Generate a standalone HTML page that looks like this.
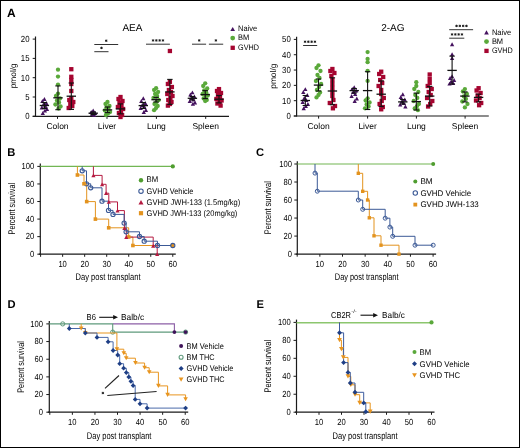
<!DOCTYPE html>
<html><head><meta charset="utf-8"><title>Figure</title>
<style>
html,body{margin:0;padding:0;background:#fff;width:520px;height:448px;overflow:hidden}
svg{display:block;will-change:transform}
text{font-family:"Liberation Sans",sans-serif;text-rendering:geometricPrecision}
</style></head><body>
<svg width="520" height="448" viewBox="0 0 520 448" font-family="Liberation Sans, sans-serif">
<rect x="0" y="0" width="520" height="448" fill="#fff"/>
<text x="6.9" y="16.6" font-size="12.0" font-weight="bold" fill="#000">A</text>
<line x1="35.5" y1="36.5" x2="35.5" y2="116.8" stroke="#1a1a1a" stroke-width="1.2"/>
<line x1="32.7" y1="116.3" x2="35.5" y2="116.3" stroke="#1a1a1a" stroke-width="1"/>
<text x="29.5" y="119.3" font-size="8.8" text-anchor="end" textLength="4.35" lengthAdjust="spacingAndGlyphs">0</text>
<line x1="32.7" y1="97" x2="35.5" y2="97" stroke="#1a1a1a" stroke-width="1"/>
<text x="29.5" y="100" font-size="8.8" text-anchor="end" textLength="4.35" lengthAdjust="spacingAndGlyphs">5</text>
<line x1="32.7" y1="77.7" x2="35.5" y2="77.7" stroke="#1a1a1a" stroke-width="1"/>
<text x="29.5" y="80.7" font-size="8.8" text-anchor="end" textLength="8.7" lengthAdjust="spacingAndGlyphs">10</text>
<line x1="32.7" y1="58.4" x2="35.5" y2="58.4" stroke="#1a1a1a" stroke-width="1"/>
<text x="29.5" y="61.4" font-size="8.8" text-anchor="end" textLength="8.7" lengthAdjust="spacingAndGlyphs">15</text>
<line x1="32.7" y1="39.1" x2="35.5" y2="39.1" stroke="#1a1a1a" stroke-width="1"/>
<text x="29.5" y="42.1" font-size="8.8" text-anchor="end" textLength="8.7" lengthAdjust="spacingAndGlyphs">20</text>
<line x1="32.7" y1="116.3" x2="229" y2="116.3" stroke="#1a1a1a" stroke-width="1.2"/>
<line x1="57.5" y1="116.3" x2="57.5" y2="118.9" stroke="#1a1a1a" stroke-width="1"/>
<text x="57.5" y="128.9" font-size="8.5" text-anchor="middle">Colon</text>
<line x1="107" y1="116.3" x2="107" y2="118.9" stroke="#1a1a1a" stroke-width="1"/>
<text x="107" y="128.9" font-size="8.5" text-anchor="middle">Liver</text>
<line x1="156.4" y1="116.3" x2="156.4" y2="118.9" stroke="#1a1a1a" stroke-width="1"/>
<text x="156.4" y="128.9" font-size="8.5" text-anchor="middle">Lung</text>
<line x1="205.7" y1="116.3" x2="205.7" y2="118.9" stroke="#1a1a1a" stroke-width="1"/>
<text x="205.7" y="128.9" font-size="8.5" text-anchor="middle">Spleen</text>
<text x="132.4" y="31.2" font-size="10" text-anchor="middle">AEA</text>
<text transform="translate(16.2,75.8) rotate(-90)" font-size="8.4" text-anchor="middle">pmol/g</text>
<path d="M232.7 26.88L235.05 31.12L230.35 31.12Z" fill="#45125f"/>
<circle cx="232.7" cy="38.1" r="2.4" fill="#5aa93a"/>
<rect x="230.55" y="45.65" width="4.3" height="4.3" fill="#a50530"/>
<text x="238.1" y="31.1" font-size="8.0" textLength="19.2" lengthAdjust="spacingAndGlyphs">Naive</text>
<text x="238.1" y="40.4" font-size="8.0" textLength="11.2" lengthAdjust="spacingAndGlyphs">BM</text>
<text x="238.1" y="49.8" font-size="8.0" textLength="20.9" lengthAdjust="spacingAndGlyphs">GVHD</text>
<path d="M44.4 97.06L46.55 100.94L42.25 100.94Z" fill="#45125f"/>
<path d="M42.4 99.06L44.55 102.94L40.25 102.94Z" fill="#45125f"/>
<path d="M46.4 101.06L48.55 104.94L44.25 104.94Z" fill="#45125f"/>
<path d="M43.4 102.56L45.55 106.44L41.25 106.44Z" fill="#45125f"/>
<path d="M45.4 104.06L47.55 107.94L43.25 107.94Z" fill="#45125f"/>
<path d="M41.8 105.56L43.95 109.44L39.65 109.44Z" fill="#45125f"/>
<path d="M47 107.06L49.15 110.94L44.85 110.94Z" fill="#45125f"/>
<path d="M44.9 108.56L47.05 112.44L42.75 112.44Z" fill="#45125f"/>
<path d="M42.8 111.06L44.95 114.94L40.65 114.94Z" fill="#45125f"/>
<line x1="44.4" y1="102.5" x2="44.4" y2="108.5" stroke="#111" stroke-width="1.1"/>
<line x1="41.7" y1="102.5" x2="47.1" y2="102.5" stroke="#111" stroke-width="1.1"/>
<line x1="41.7" y1="108.5" x2="47.1" y2="108.5" stroke="#111" stroke-width="1.1"/>
<line x1="39.7" y1="105.5" x2="49.1" y2="105.5" stroke="#111" stroke-width="1.3"/>
<circle cx="58" cy="69.7" r="2.15" fill="#5aa93a"/>
<circle cx="58" cy="76.6" r="2.15" fill="#5aa93a"/>
<circle cx="58" cy="84.6" r="2.15" fill="#5aa93a"/>
<circle cx="58" cy="93.6" r="2.15" fill="#5aa93a"/>
<circle cx="56" cy="96" r="2.15" fill="#5aa93a"/>
<circle cx="60" cy="98.5" r="2.15" fill="#5aa93a"/>
<circle cx="57" cy="100.5" r="2.15" fill="#5aa93a"/>
<circle cx="59" cy="102.5" r="2.15" fill="#5aa93a"/>
<circle cx="55.4" cy="104.5" r="2.15" fill="#5aa93a"/>
<circle cx="60.6" cy="106.5" r="2.15" fill="#5aa93a"/>
<circle cx="58.5" cy="108.5" r="2.15" fill="#5aa93a"/>
<line x1="58" y1="85.9" x2="58" y2="109.7" stroke="#111" stroke-width="1.1"/>
<line x1="55.3" y1="85.9" x2="60.7" y2="85.9" stroke="#111" stroke-width="1.1"/>
<line x1="55.3" y1="109.7" x2="60.7" y2="109.7" stroke="#111" stroke-width="1.1"/>
<line x1="53.3" y1="97.8" x2="62.7" y2="97.8" stroke="#111" stroke-width="1.3"/>
<rect x="69.15" y="67.05" width="4.3" height="4.3" fill="#a50530"/>
<rect x="69.15" y="74.65" width="4.3" height="4.3" fill="#a50530"/>
<rect x="69.15" y="77.85" width="4.3" height="4.3" fill="#a50530"/>
<rect x="69.15" y="81.85" width="4.3" height="4.3" fill="#a50530"/>
<rect x="69.15" y="88.85" width="4.3" height="4.3" fill="#a50530"/>
<rect x="69.15" y="95.85" width="4.3" height="4.3" fill="#a50530"/>
<rect x="67.15" y="97.85" width="4.3" height="4.3" fill="#a50530"/>
<rect x="71.15" y="99.85" width="4.3" height="4.3" fill="#a50530"/>
<rect x="68.15" y="101.85" width="4.3" height="4.3" fill="#a50530"/>
<rect x="70.15" y="103.85" width="4.3" height="4.3" fill="#a50530"/>
<rect x="66.55" y="105.85" width="4.3" height="4.3" fill="#a50530"/>
<line x1="71.3" y1="83" x2="71.3" y2="109.4" stroke="#111" stroke-width="1.1"/>
<line x1="68.6" y1="83" x2="74" y2="83" stroke="#111" stroke-width="1.1"/>
<line x1="68.6" y1="109.4" x2="74" y2="109.4" stroke="#111" stroke-width="1.1"/>
<line x1="66.6" y1="96.2" x2="76" y2="96.2" stroke="#111" stroke-width="1.3"/>
<path d="M93.2 108.56L95.35 112.44L91.05 112.44Z" fill="#45125f"/>
<path d="M91.2 110.06L93.35 113.94L89.05 113.94Z" fill="#45125f"/>
<path d="M95.2 111.06L97.35 114.94L93.05 114.94Z" fill="#45125f"/>
<path d="M92.2 112.06L94.35 115.94L90.05 115.94Z" fill="#45125f"/>
<path d="M94.2 113.06L96.35 116.94L92.05 116.94Z" fill="#45125f"/>
<line x1="93.2" y1="112" x2="93.2" y2="114.5" stroke="#111" stroke-width="1.1"/>
<line x1="90.5" y1="112" x2="95.9" y2="112" stroke="#111" stroke-width="1.1"/>
<line x1="90.5" y1="114.5" x2="95.9" y2="114.5" stroke="#111" stroke-width="1.1"/>
<line x1="88.5" y1="113.2" x2="97.9" y2="113.2" stroke="#111" stroke-width="1.3"/>
<circle cx="107.5" cy="102" r="2.15" fill="#5aa93a"/>
<circle cx="105.5" cy="104" r="2.15" fill="#5aa93a"/>
<circle cx="109.5" cy="106" r="2.15" fill="#5aa93a"/>
<circle cx="106.5" cy="107.5" r="2.15" fill="#5aa93a"/>
<circle cx="108.5" cy="109" r="2.15" fill="#5aa93a"/>
<circle cx="104.9" cy="110.5" r="2.15" fill="#5aa93a"/>
<circle cx="110.1" cy="112" r="2.15" fill="#5aa93a"/>
<circle cx="108" cy="113.5" r="2.15" fill="#5aa93a"/>
<circle cx="105.9" cy="115" r="2.15" fill="#5aa93a"/>
<line x1="107.5" y1="107" x2="107.5" y2="112.6" stroke="#111" stroke-width="1.1"/>
<line x1="104.8" y1="107" x2="110.2" y2="107" stroke="#111" stroke-width="1.1"/>
<line x1="104.8" y1="112.6" x2="110.2" y2="112.6" stroke="#111" stroke-width="1.1"/>
<line x1="102.8" y1="109.9" x2="112.2" y2="109.9" stroke="#111" stroke-width="1.3"/>
<rect x="118.35" y="94.85" width="4.3" height="4.3" fill="#a50530"/>
<rect x="116.35" y="96.85" width="4.3" height="4.3" fill="#a50530"/>
<rect x="120.35" y="98.85" width="4.3" height="4.3" fill="#a50530"/>
<rect x="117.35" y="100.85" width="4.3" height="4.3" fill="#a50530"/>
<rect x="119.35" y="102.85" width="4.3" height="4.3" fill="#a50530"/>
<rect x="115.75" y="104.85" width="4.3" height="4.3" fill="#a50530"/>
<rect x="120.95" y="106.85" width="4.3" height="4.3" fill="#a50530"/>
<rect x="118.85" y="108.85" width="4.3" height="4.3" fill="#a50530"/>
<rect x="116.75" y="110.85" width="4.3" height="4.3" fill="#a50530"/>
<rect x="119.95" y="112.85" width="4.3" height="4.3" fill="#a50530"/>
<rect x="118.35" y="114.85" width="4.3" height="4.3" fill="#a50530"/>
<line x1="120.5" y1="103.9" x2="120.5" y2="113.8" stroke="#111" stroke-width="1.1"/>
<line x1="117.8" y1="103.9" x2="123.2" y2="103.9" stroke="#111" stroke-width="1.1"/>
<line x1="117.8" y1="113.8" x2="123.2" y2="113.8" stroke="#111" stroke-width="1.1"/>
<line x1="115.8" y1="108.9" x2="125.2" y2="108.9" stroke="#111" stroke-width="1.3"/>
<path d="M143.3 96.36L145.45 100.23L141.15 100.23Z" fill="#45125f"/>
<path d="M141.3 99.06L143.45 102.94L139.15 102.94Z" fill="#45125f"/>
<path d="M145.3 101.06L147.45 104.94L143.15 104.94Z" fill="#45125f"/>
<path d="M142.3 103.06L144.45 106.94L140.15 106.94Z" fill="#45125f"/>
<path d="M144.3 104.56L146.45 108.44L142.15 108.44Z" fill="#45125f"/>
<path d="M140.7 106.06L142.85 109.94L138.55 109.94Z" fill="#45125f"/>
<path d="M145.9 108.06L148.05 111.94L143.75 111.94Z" fill="#45125f"/>
<path d="M143.8 110.06L145.95 113.94L141.65 113.94Z" fill="#45125f"/>
<line x1="143.3" y1="102.5" x2="143.3" y2="108.5" stroke="#111" stroke-width="1.1"/>
<line x1="140.6" y1="102.5" x2="146" y2="102.5" stroke="#111" stroke-width="1.1"/>
<line x1="140.6" y1="108.5" x2="146" y2="108.5" stroke="#111" stroke-width="1.1"/>
<line x1="138.6" y1="105.6" x2="148" y2="105.6" stroke="#111" stroke-width="1.3"/>
<circle cx="156.1" cy="88.2" r="2.15" fill="#5aa93a"/>
<circle cx="154.1" cy="90" r="2.15" fill="#5aa93a"/>
<circle cx="158.1" cy="92" r="2.15" fill="#5aa93a"/>
<circle cx="155.1" cy="94" r="2.15" fill="#5aa93a"/>
<circle cx="157.1" cy="96" r="2.15" fill="#5aa93a"/>
<circle cx="153.5" cy="98" r="2.15" fill="#5aa93a"/>
<circle cx="158.7" cy="100" r="2.15" fill="#5aa93a"/>
<circle cx="156.6" cy="102" r="2.15" fill="#5aa93a"/>
<circle cx="154.5" cy="104" r="2.15" fill="#5aa93a"/>
<circle cx="157.7" cy="106" r="2.15" fill="#5aa93a"/>
<circle cx="156.1" cy="108" r="2.15" fill="#5aa93a"/>
<circle cx="154.1" cy="110.2" r="2.15" fill="#5aa93a"/>
<line x1="156.1" y1="97.4" x2="156.1" y2="102" stroke="#111" stroke-width="1.1"/>
<line x1="153.4" y1="97.4" x2="158.8" y2="97.4" stroke="#111" stroke-width="1.1"/>
<line x1="153.4" y1="102" x2="158.8" y2="102" stroke="#111" stroke-width="1.1"/>
<line x1="151.4" y1="99.7" x2="160.8" y2="99.7" stroke="#111" stroke-width="1.3"/>
<rect x="167.75" y="48.85" width="4.3" height="4.3" fill="#a50530"/>
<rect x="167.75" y="79.65" width="4.3" height="4.3" fill="#a50530"/>
<rect x="165.75" y="81.85" width="4.3" height="4.3" fill="#a50530"/>
<rect x="169.75" y="84.85" width="4.3" height="4.3" fill="#a50530"/>
<rect x="166.75" y="87.85" width="4.3" height="4.3" fill="#a50530"/>
<rect x="168.75" y="89.85" width="4.3" height="4.3" fill="#a50530"/>
<rect x="165.15" y="91.85" width="4.3" height="4.3" fill="#a50530"/>
<rect x="170.35" y="93.85" width="4.3" height="4.3" fill="#a50530"/>
<rect x="168.25" y="95.85" width="4.3" height="4.3" fill="#a50530"/>
<rect x="166.15" y="97.85" width="4.3" height="4.3" fill="#a50530"/>
<rect x="169.35" y="99.85" width="4.3" height="4.3" fill="#a50530"/>
<rect x="167.75" y="101.85" width="4.3" height="4.3" fill="#a50530"/>
<rect x="165.75" y="103.45" width="4.3" height="4.3" fill="#a50530"/>
<line x1="169.9" y1="79.4" x2="169.9" y2="104.4" stroke="#111" stroke-width="1.1"/>
<line x1="167.2" y1="79.4" x2="172.6" y2="79.4" stroke="#111" stroke-width="1.1"/>
<line x1="167.2" y1="104.4" x2="172.6" y2="104.4" stroke="#111" stroke-width="1.1"/>
<line x1="165.2" y1="91.9" x2="174.6" y2="91.9" stroke="#111" stroke-width="1.3"/>
<path d="M192.4 90.47L194.55 94.34L190.25 94.34Z" fill="#45125f"/>
<path d="M190.4 92.56L192.55 96.44L188.25 96.44Z" fill="#45125f"/>
<path d="M194.4 94.56L196.55 98.44L192.25 98.44Z" fill="#45125f"/>
<path d="M191.4 96.06L193.55 99.94L189.25 99.94Z" fill="#45125f"/>
<path d="M193.4 97.56L195.55 101.44L191.25 101.44Z" fill="#45125f"/>
<path d="M189.8 99.06L191.95 102.94L187.65 102.94Z" fill="#45125f"/>
<path d="M195 100.56L197.15 104.44L192.85 104.44Z" fill="#45125f"/>
<path d="M192.9 101.86L195.05 105.73L190.75 105.73Z" fill="#45125f"/>
<line x1="192.4" y1="96.5" x2="192.4" y2="100" stroke="#111" stroke-width="1.1"/>
<line x1="189.7" y1="96.5" x2="195.1" y2="96.5" stroke="#111" stroke-width="1.1"/>
<line x1="189.7" y1="100" x2="195.1" y2="100" stroke="#111" stroke-width="1.1"/>
<line x1="187.7" y1="98.3" x2="197.1" y2="98.3" stroke="#111" stroke-width="1.3"/>
<circle cx="205.2" cy="83.3" r="2.15" fill="#5aa93a"/>
<circle cx="203.2" cy="86" r="2.15" fill="#5aa93a"/>
<circle cx="207.2" cy="88.5" r="2.15" fill="#5aa93a"/>
<circle cx="204.2" cy="90.5" r="2.15" fill="#5aa93a"/>
<circle cx="206.2" cy="92.5" r="2.15" fill="#5aa93a"/>
<circle cx="202.6" cy="94" r="2.15" fill="#5aa93a"/>
<circle cx="207.8" cy="95.5" r="2.15" fill="#5aa93a"/>
<circle cx="205.7" cy="97" r="2.15" fill="#5aa93a"/>
<circle cx="203.6" cy="98.5" r="2.15" fill="#5aa93a"/>
<circle cx="206.8" cy="100" r="2.15" fill="#5aa93a"/>
<circle cx="205.2" cy="101" r="2.15" fill="#5aa93a"/>
<line x1="205.2" y1="90.6" x2="205.2" y2="98.6" stroke="#111" stroke-width="1.1"/>
<line x1="202.5" y1="90.6" x2="207.9" y2="90.6" stroke="#111" stroke-width="1.1"/>
<line x1="202.5" y1="98.6" x2="207.9" y2="98.6" stroke="#111" stroke-width="1.1"/>
<line x1="200.5" y1="94.6" x2="209.9" y2="94.6" stroke="#111" stroke-width="1.3"/>
<rect x="216.85" y="86.95" width="4.3" height="4.3" fill="#a50530"/>
<rect x="214.85" y="88.85" width="4.3" height="4.3" fill="#a50530"/>
<rect x="218.85" y="90.85" width="4.3" height="4.3" fill="#a50530"/>
<rect x="215.85" y="92.85" width="4.3" height="4.3" fill="#a50530"/>
<rect x="217.85" y="94.85" width="4.3" height="4.3" fill="#a50530"/>
<rect x="214.25" y="96.85" width="4.3" height="4.3" fill="#a50530"/>
<rect x="219.45" y="98.35" width="4.3" height="4.3" fill="#a50530"/>
<rect x="217.35" y="99.85" width="4.3" height="4.3" fill="#a50530"/>
<rect x="215.25" y="101.35" width="4.3" height="4.3" fill="#a50530"/>
<rect x="218.45" y="103.45" width="4.3" height="4.3" fill="#a50530"/>
<line x1="219" y1="95.5" x2="219" y2="102.9" stroke="#111" stroke-width="1.1"/>
<line x1="216.3" y1="95.5" x2="221.7" y2="95.5" stroke="#111" stroke-width="1.1"/>
<line x1="216.3" y1="102.9" x2="221.7" y2="102.9" stroke="#111" stroke-width="1.1"/>
<line x1="214.3" y1="99.2" x2="223.7" y2="99.2" stroke="#111" stroke-width="1.3"/>
<line x1="94.3" y1="44.5" x2="118.2" y2="44.5" stroke="#333" stroke-width="1"/>
<path d="M106.2 39.5V41.9M105.05 40.2L107.35 41.3M107.35 40.2L105.05 41.3" stroke="#1a1a1a" stroke-width="0.9" fill="none"/>
<line x1="94.3" y1="51.7" x2="108.5" y2="51.7" stroke="#333" stroke-width="1"/>
<path d="M101.5 46.7V49.1M100.35 47.4L102.65 48.5M102.65 47.4L100.35 48.5" stroke="#1a1a1a" stroke-width="0.9" fill="none"/>
<line x1="146" y1="44.2" x2="169.9" y2="44.2" stroke="#333" stroke-width="1"/>
<path d="M153.05 39.2V41.6M151.9 39.9L154.2 41M154.2 39.9L151.9 41" stroke="#1a1a1a" stroke-width="0.9" fill="none"/>
<path d="M156.35 39.2V41.6M155.2 39.9L157.5 41M157.5 39.9L155.2 41" stroke="#1a1a1a" stroke-width="0.9" fill="none"/>
<path d="M159.65 39.2V41.6M158.5 39.9L160.8 41M160.8 39.9L158.5 41" stroke="#1a1a1a" stroke-width="0.9" fill="none"/>
<path d="M162.95 39.2V41.6M161.8 39.9L164.1 41M164.1 39.9L161.8 41" stroke="#1a1a1a" stroke-width="0.9" fill="none"/>
<line x1="192" y1="44.2" x2="206.1" y2="44.2" stroke="#333" stroke-width="1"/>
<path d="M199.2 39.2V41.6M198.05 39.9L200.35 41M200.35 39.9L198.05 41" stroke="#1a1a1a" stroke-width="0.9" fill="none"/>
<line x1="208.9" y1="44.2" x2="223.2" y2="44.2" stroke="#333" stroke-width="1"/>
<path d="M215.9 39.2V41.6M214.75 39.9L217.05 41M217.05 39.9L214.75 41" stroke="#1a1a1a" stroke-width="0.9" fill="none"/>
<line x1="296.6" y1="36.7" x2="296.6" y2="116.5" stroke="#1a1a1a" stroke-width="1.2"/>
<line x1="293.8" y1="116" x2="296.6" y2="116" stroke="#1a1a1a" stroke-width="1"/>
<text x="290.8" y="119" font-size="8.8" text-anchor="end" textLength="4.35" lengthAdjust="spacingAndGlyphs">0</text>
<line x1="293.8" y1="100.68" x2="296.6" y2="100.68" stroke="#1a1a1a" stroke-width="1"/>
<text x="290.8" y="103.68" font-size="8.8" text-anchor="end" textLength="8.7" lengthAdjust="spacingAndGlyphs">10</text>
<line x1="293.8" y1="85.36" x2="296.6" y2="85.36" stroke="#1a1a1a" stroke-width="1"/>
<text x="290.8" y="88.36" font-size="8.8" text-anchor="end" textLength="8.7" lengthAdjust="spacingAndGlyphs">20</text>
<line x1="293.8" y1="70.04" x2="296.6" y2="70.04" stroke="#1a1a1a" stroke-width="1"/>
<text x="290.8" y="73.04" font-size="8.8" text-anchor="end" textLength="8.7" lengthAdjust="spacingAndGlyphs">30</text>
<line x1="293.8" y1="54.72" x2="296.6" y2="54.72" stroke="#1a1a1a" stroke-width="1"/>
<text x="290.8" y="57.72" font-size="8.8" text-anchor="end" textLength="8.7" lengthAdjust="spacingAndGlyphs">40</text>
<line x1="293.8" y1="39.4" x2="296.6" y2="39.4" stroke="#1a1a1a" stroke-width="1"/>
<text x="290.8" y="42.4" font-size="8.8" text-anchor="end" textLength="8.7" lengthAdjust="spacingAndGlyphs">50</text>
<line x1="293.8" y1="116" x2="488.8" y2="116" stroke="#1a1a1a" stroke-width="1.2"/>
<line x1="318.6" y1="116" x2="318.6" y2="118.6" stroke="#1a1a1a" stroke-width="1"/>
<text x="318.6" y="128.9" font-size="8.5" text-anchor="middle">Colon</text>
<line x1="367.6" y1="116" x2="367.6" y2="118.6" stroke="#1a1a1a" stroke-width="1"/>
<text x="367.6" y="128.9" font-size="8.5" text-anchor="middle">Liver</text>
<line x1="416.4" y1="116" x2="416.4" y2="118.6" stroke="#1a1a1a" stroke-width="1"/>
<text x="416.4" y="128.9" font-size="8.5" text-anchor="middle">Lung</text>
<line x1="465.1" y1="116" x2="465.1" y2="118.6" stroke="#1a1a1a" stroke-width="1"/>
<text x="465.1" y="128.9" font-size="8.5" text-anchor="middle">Spleen</text>
<text x="392.8" y="31.2" font-size="10" text-anchor="middle">2-AG</text>
<text transform="translate(276.4,76.2) rotate(-90)" font-size="8.4" text-anchor="middle">pmol/g</text>
<path d="M486.5 30.28L488.85 34.52L484.15 34.52Z" fill="#45125f"/>
<circle cx="486.5" cy="41.6" r="2.4" fill="#5aa93a"/>
<rect x="484.35" y="48.75" width="4.3" height="4.3" fill="#a50530"/>
<text x="491.9" y="34.6" font-size="8.0" textLength="19.2" lengthAdjust="spacingAndGlyphs">Naive</text>
<text x="491.9" y="44" font-size="8.0" textLength="11.2" lengthAdjust="spacingAndGlyphs">BM</text>
<text x="491.9" y="53.3" font-size="8.0" textLength="20.9" lengthAdjust="spacingAndGlyphs">GVHD</text>
<path d="M305.3 87.16L307.45 91.03L303.15 91.03Z" fill="#45125f"/>
<path d="M303.3 90.06L305.45 93.94L301.15 93.94Z" fill="#45125f"/>
<path d="M307.3 93.06L309.45 96.94L305.15 96.94Z" fill="#45125f"/>
<path d="M304.3 96.06L306.45 99.94L302.15 99.94Z" fill="#45125f"/>
<path d="M306.3 98.06L308.45 101.94L304.15 101.94Z" fill="#45125f"/>
<path d="M302.7 100.06L304.85 103.94L300.55 103.94Z" fill="#45125f"/>
<path d="M307.9 102.06L310.05 105.94L305.75 105.94Z" fill="#45125f"/>
<path d="M305.8 104.06L307.95 107.94L303.65 107.94Z" fill="#45125f"/>
<path d="M303.7 106.36L305.85 110.23L301.55 110.23Z" fill="#45125f"/>
<line x1="305.3" y1="95.5" x2="305.3" y2="105.5" stroke="#111" stroke-width="1.1"/>
<line x1="302.6" y1="95.5" x2="308" y2="95.5" stroke="#111" stroke-width="1.1"/>
<line x1="302.6" y1="105.5" x2="308" y2="105.5" stroke="#111" stroke-width="1.1"/>
<line x1="300.6" y1="100.5" x2="310" y2="100.5" stroke="#111" stroke-width="1.3"/>
<circle cx="318.5" cy="65.3" r="2.15" fill="#5aa93a"/>
<circle cx="316.5" cy="68" r="2.15" fill="#5aa93a"/>
<circle cx="320.5" cy="71" r="2.15" fill="#5aa93a"/>
<circle cx="317.5" cy="75" r="2.15" fill="#5aa93a"/>
<circle cx="319.5" cy="78" r="2.15" fill="#5aa93a"/>
<circle cx="315.9" cy="81" r="2.15" fill="#5aa93a"/>
<circle cx="321.1" cy="84" r="2.15" fill="#5aa93a"/>
<circle cx="319" cy="87" r="2.15" fill="#5aa93a"/>
<circle cx="316.9" cy="90" r="2.15" fill="#5aa93a"/>
<circle cx="320.1" cy="92.5" r="2.15" fill="#5aa93a"/>
<circle cx="318.5" cy="95" r="2.15" fill="#5aa93a"/>
<circle cx="316.5" cy="97.4" r="2.15" fill="#5aa93a"/>
<line x1="318.5" y1="79" x2="318.5" y2="91" stroke="#111" stroke-width="1.1"/>
<line x1="315.8" y1="79" x2="321.2" y2="79" stroke="#111" stroke-width="1.1"/>
<line x1="315.8" y1="91" x2="321.2" y2="91" stroke="#111" stroke-width="1.1"/>
<line x1="313.8" y1="85.1" x2="323.2" y2="85.1" stroke="#111" stroke-width="1.3"/>
<rect x="330.25" y="66.85" width="4.3" height="4.3" fill="#a50530"/>
<rect x="328.25" y="68.85" width="4.3" height="4.3" fill="#a50530"/>
<rect x="332.25" y="70.85" width="4.3" height="4.3" fill="#a50530"/>
<rect x="329.25" y="73.85" width="4.3" height="4.3" fill="#a50530"/>
<rect x="330.25" y="77.85" width="4.3" height="4.3" fill="#a50530"/>
<rect x="330.25" y="81.85" width="4.3" height="4.3" fill="#a50530"/>
<rect x="330.25" y="85.85" width="4.3" height="4.3" fill="#a50530"/>
<rect x="330.25" y="89.85" width="4.3" height="4.3" fill="#a50530"/>
<rect x="330.25" y="93.85" width="4.3" height="4.3" fill="#a50530"/>
<rect x="331.25" y="97.85" width="4.3" height="4.3" fill="#a50530"/>
<rect x="327.65" y="100.85" width="4.3" height="4.3" fill="#a50530"/>
<rect x="332.85" y="103.85" width="4.3" height="4.3" fill="#a50530"/>
<rect x="330.75" y="106.15" width="4.3" height="4.3" fill="#a50530"/>
<line x1="332.4" y1="77.8" x2="332.4" y2="104.7" stroke="#111" stroke-width="1.1"/>
<line x1="329.7" y1="77.8" x2="335.1" y2="77.8" stroke="#111" stroke-width="1.1"/>
<line x1="329.7" y1="104.7" x2="335.1" y2="104.7" stroke="#111" stroke-width="1.1"/>
<line x1="327.7" y1="91" x2="337.1" y2="91" stroke="#111" stroke-width="1.3"/>
<path d="M354.2 85.36L356.35 89.23L352.05 89.23Z" fill="#45125f"/>
<path d="M352.2 87.06L354.35 90.94L350.05 90.94Z" fill="#45125f"/>
<path d="M356.2 88.56L358.35 92.44L354.05 92.44Z" fill="#45125f"/>
<path d="M353.2 90.06L355.35 93.94L351.05 93.94Z" fill="#45125f"/>
<path d="M355.2 92.06L357.35 95.94L353.05 95.94Z" fill="#45125f"/>
<path d="M351.6 94.06L353.75 97.94L349.45 97.94Z" fill="#45125f"/>
<path d="M356.8 96.56L358.95 100.44L354.65 100.44Z" fill="#45125f"/>
<path d="M354.7 99.06L356.85 102.94L352.55 102.94Z" fill="#45125f"/>
<line x1="354.2" y1="88.5" x2="354.2" y2="93" stroke="#111" stroke-width="1.1"/>
<line x1="351.5" y1="88.5" x2="356.9" y2="88.5" stroke="#111" stroke-width="1.1"/>
<line x1="351.5" y1="93" x2="356.9" y2="93" stroke="#111" stroke-width="1.1"/>
<line x1="349.5" y1="90.6" x2="358.9" y2="90.6" stroke="#111" stroke-width="1.3"/>
<circle cx="367.6" cy="52.1" r="2.15" fill="#5aa93a"/>
<circle cx="367.6" cy="58.9" r="2.15" fill="#5aa93a"/>
<circle cx="367.6" cy="62.2" r="2.15" fill="#5aa93a"/>
<circle cx="367.6" cy="70.8" r="2.15" fill="#5aa93a"/>
<circle cx="367.6" cy="80.9" r="2.15" fill="#5aa93a"/>
<circle cx="367.6" cy="98.3" r="2.15" fill="#5aa93a"/>
<circle cx="365.6" cy="100.5" r="2.15" fill="#5aa93a"/>
<circle cx="369.6" cy="102.5" r="2.15" fill="#5aa93a"/>
<circle cx="366.6" cy="104.5" r="2.15" fill="#5aa93a"/>
<circle cx="368.6" cy="106.5" r="2.15" fill="#5aa93a"/>
<circle cx="365" cy="108.3" r="2.15" fill="#5aa93a"/>
<line x1="367.6" y1="71.7" x2="367.6" y2="109.5" stroke="#111" stroke-width="1.1"/>
<line x1="364.9" y1="71.7" x2="370.3" y2="71.7" stroke="#111" stroke-width="1.1"/>
<line x1="364.9" y1="109.5" x2="370.3" y2="109.5" stroke="#111" stroke-width="1.1"/>
<line x1="362.9" y1="90.6" x2="372.3" y2="90.6" stroke="#111" stroke-width="1.3"/>
<rect x="379.05" y="69.55" width="4.3" height="4.3" fill="#a50530"/>
<rect x="377.05" y="71.85" width="4.3" height="4.3" fill="#a50530"/>
<rect x="381.05" y="74.85" width="4.3" height="4.3" fill="#a50530"/>
<rect x="378.05" y="77.85" width="4.3" height="4.3" fill="#a50530"/>
<rect x="380.05" y="80.85" width="4.3" height="4.3" fill="#a50530"/>
<rect x="376.45" y="83.85" width="4.3" height="4.3" fill="#a50530"/>
<rect x="379.05" y="87.85" width="4.3" height="4.3" fill="#a50530"/>
<rect x="379.05" y="91.85" width="4.3" height="4.3" fill="#a50530"/>
<rect x="381.65" y="95.85" width="4.3" height="4.3" fill="#a50530"/>
<rect x="379.55" y="98.85" width="4.3" height="4.3" fill="#a50530"/>
<rect x="377.45" y="101.85" width="4.3" height="4.3" fill="#a50530"/>
<rect x="380.65" y="104.85" width="4.3" height="4.3" fill="#a50530"/>
<rect x="379.05" y="107.15" width="4.3" height="4.3" fill="#a50530"/>
<line x1="381.2" y1="80.9" x2="381.2" y2="106.5" stroke="#111" stroke-width="1.1"/>
<line x1="378.5" y1="80.9" x2="383.9" y2="80.9" stroke="#111" stroke-width="1.1"/>
<line x1="378.5" y1="106.5" x2="383.9" y2="106.5" stroke="#111" stroke-width="1.1"/>
<line x1="376.5" y1="94.2" x2="385.9" y2="94.2" stroke="#111" stroke-width="1.3"/>
<path d="M402.8 92.27L404.95 96.14L400.65 96.14Z" fill="#45125f"/>
<path d="M400.8 95.06L402.95 98.94L398.65 98.94Z" fill="#45125f"/>
<path d="M404.8 97.56L406.95 101.44L402.65 101.44Z" fill="#45125f"/>
<path d="M401.8 99.56L403.95 103.44L399.65 103.44Z" fill="#45125f"/>
<path d="M403.8 101.06L405.95 104.94L401.65 104.94Z" fill="#45125f"/>
<path d="M400.2 102.56L402.35 106.44L398.05 106.44Z" fill="#45125f"/>
<path d="M405.4 104.56L407.55 108.44L403.25 108.44Z" fill="#45125f"/>
<line x1="402.8" y1="99.5" x2="402.8" y2="104" stroke="#111" stroke-width="1.1"/>
<line x1="400.1" y1="99.5" x2="405.5" y2="99.5" stroke="#111" stroke-width="1.1"/>
<line x1="400.1" y1="104" x2="405.5" y2="104" stroke="#111" stroke-width="1.1"/>
<line x1="398.1" y1="101.9" x2="407.5" y2="101.9" stroke="#111" stroke-width="1.3"/>
<circle cx="416.3" cy="82.2" r="2.15" fill="#5aa93a"/>
<circle cx="416.3" cy="86" r="2.15" fill="#5aa93a"/>
<circle cx="414.3" cy="89" r="2.15" fill="#5aa93a"/>
<circle cx="418.3" cy="92" r="2.15" fill="#5aa93a"/>
<circle cx="415.3" cy="95" r="2.15" fill="#5aa93a"/>
<circle cx="417.3" cy="98" r="2.15" fill="#5aa93a"/>
<circle cx="413.7" cy="101" r="2.15" fill="#5aa93a"/>
<circle cx="418.9" cy="104" r="2.15" fill="#5aa93a"/>
<circle cx="416.8" cy="106.5" r="2.15" fill="#5aa93a"/>
<circle cx="414.7" cy="108.5" r="2.15" fill="#5aa93a"/>
<circle cx="417.9" cy="110.2" r="2.15" fill="#5aa93a"/>
<line x1="416.3" y1="93.1" x2="416.3" y2="110" stroke="#111" stroke-width="1.1"/>
<line x1="413.6" y1="93.1" x2="419" y2="93.1" stroke="#111" stroke-width="1.1"/>
<line x1="413.6" y1="110" x2="419" y2="110" stroke="#111" stroke-width="1.1"/>
<line x1="411.6" y1="101.6" x2="421" y2="101.6" stroke="#111" stroke-width="1.3"/>
<rect x="427.55" y="72.35" width="4.3" height="4.3" fill="#a50530"/>
<rect x="427.55" y="76.85" width="4.3" height="4.3" fill="#a50530"/>
<rect x="427.55" y="80.85" width="4.3" height="4.3" fill="#a50530"/>
<rect x="425.55" y="83.85" width="4.3" height="4.3" fill="#a50530"/>
<rect x="429.55" y="86.85" width="4.3" height="4.3" fill="#a50530"/>
<rect x="426.55" y="89.85" width="4.3" height="4.3" fill="#a50530"/>
<rect x="428.55" y="92.85" width="4.3" height="4.3" fill="#a50530"/>
<rect x="424.95" y="95.85" width="4.3" height="4.3" fill="#a50530"/>
<rect x="430.15" y="98.85" width="4.3" height="4.3" fill="#a50530"/>
<rect x="428.05" y="101.85" width="4.3" height="4.3" fill="#a50530"/>
<rect x="425.95" y="104.35" width="4.3" height="4.3" fill="#a50530"/>
<line x1="429.7" y1="86.4" x2="429.7" y2="106" stroke="#111" stroke-width="1.1"/>
<line x1="427" y1="86.4" x2="432.4" y2="86.4" stroke="#111" stroke-width="1.1"/>
<line x1="427" y1="106" x2="432.4" y2="106" stroke="#111" stroke-width="1.1"/>
<line x1="425" y1="96.1" x2="434.4" y2="96.1" stroke="#111" stroke-width="1.3"/>
<path d="M452.1 42.27L454.25 46.14L449.95 46.14Z" fill="#45125f"/>
<path d="M452.1 52.36L454.25 56.23L449.95 56.23Z" fill="#45125f"/>
<path d="M452.1 56.06L454.25 59.94L449.95 59.94Z" fill="#45125f"/>
<path d="M452.1 74.36L454.25 78.23L449.95 78.23Z" fill="#45125f"/>
<path d="M450.1 76.06L452.25 79.94L447.95 79.94Z" fill="#45125f"/>
<path d="M454.1 78.06L456.25 81.94L451.95 81.94Z" fill="#45125f"/>
<path d="M451.1 79.56L453.25 83.44L448.95 83.44Z" fill="#45125f"/>
<path d="M453.1 81.06L455.25 84.94L450.95 84.94Z" fill="#45125f"/>
<path d="M449.5 81.66L451.65 85.53L447.35 85.53Z" fill="#45125f"/>
<line x1="452.1" y1="56.1" x2="452.1" y2="84" stroke="#111" stroke-width="1.1"/>
<line x1="449.4" y1="56.1" x2="454.8" y2="56.1" stroke="#111" stroke-width="1.1"/>
<line x1="449.4" y1="84" x2="454.8" y2="84" stroke="#111" stroke-width="1.1"/>
<line x1="447.4" y1="70.4" x2="456.8" y2="70.4" stroke="#111" stroke-width="1.3"/>
<circle cx="464.9" cy="89.1" r="2.15" fill="#5aa93a"/>
<circle cx="462.9" cy="91.5" r="2.15" fill="#5aa93a"/>
<circle cx="466.9" cy="94" r="2.15" fill="#5aa93a"/>
<circle cx="463.9" cy="96.5" r="2.15" fill="#5aa93a"/>
<circle cx="465.9" cy="99" r="2.15" fill="#5aa93a"/>
<circle cx="462.3" cy="101.5" r="2.15" fill="#5aa93a"/>
<circle cx="467.5" cy="104" r="2.15" fill="#5aa93a"/>
<circle cx="464.9" cy="107.4" r="2.15" fill="#5aa93a"/>
<line x1="464.9" y1="91.9" x2="464.9" y2="101.9" stroke="#111" stroke-width="1.1"/>
<line x1="462.2" y1="91.9" x2="467.6" y2="91.9" stroke="#111" stroke-width="1.1"/>
<line x1="462.2" y1="101.9" x2="467.6" y2="101.9" stroke="#111" stroke-width="1.1"/>
<line x1="460.2" y1="96.1" x2="469.6" y2="96.1" stroke="#111" stroke-width="1.3"/>
<rect x="476.45" y="86.05" width="4.3" height="4.3" fill="#a50530"/>
<rect x="474.45" y="88.35" width="4.3" height="4.3" fill="#a50530"/>
<rect x="478.45" y="90.85" width="4.3" height="4.3" fill="#a50530"/>
<rect x="475.45" y="93.35" width="4.3" height="4.3" fill="#a50530"/>
<rect x="477.45" y="95.85" width="4.3" height="4.3" fill="#a50530"/>
<rect x="473.85" y="98.35" width="4.3" height="4.3" fill="#a50530"/>
<rect x="479.05" y="100.85" width="4.3" height="4.3" fill="#a50530"/>
<rect x="476.95" y="103.05" width="4.3" height="4.3" fill="#a50530"/>
<line x1="478.6" y1="94.2" x2="478.6" y2="101.9" stroke="#111" stroke-width="1.1"/>
<line x1="475.9" y1="94.2" x2="481.3" y2="94.2" stroke="#111" stroke-width="1.1"/>
<line x1="475.9" y1="101.9" x2="481.3" y2="101.9" stroke="#111" stroke-width="1.1"/>
<line x1="473.9" y1="97.4" x2="483.3" y2="97.4" stroke="#111" stroke-width="1.3"/>
<line x1="303.1" y1="45.5" x2="317.2" y2="45.5" stroke="#333" stroke-width="1"/>
<path d="M305.05 40.5V42.9M303.9 41.2L306.2 42.3M306.2 41.2L303.9 42.3" stroke="#1a1a1a" stroke-width="0.9" fill="none"/>
<path d="M308.35 40.5V42.9M307.2 41.2L309.5 42.3M309.5 41.2L307.2 42.3" stroke="#1a1a1a" stroke-width="0.9" fill="none"/>
<path d="M311.65 40.5V42.9M310.5 41.2L312.8 42.3M312.8 41.2L310.5 42.3" stroke="#1a1a1a" stroke-width="0.9" fill="none"/>
<path d="M314.95 40.5V42.9M313.8 41.2L316.1 42.3M316.1 41.2L313.8 42.3" stroke="#1a1a1a" stroke-width="0.9" fill="none"/>
<line x1="449.2" y1="29.7" x2="473.1" y2="29.7" stroke="#333" stroke-width="1"/>
<path d="M456.55 24.7V27.1M455.4 25.4L457.7 26.5M457.7 25.4L455.4 26.5" stroke="#1a1a1a" stroke-width="0.9" fill="none"/>
<path d="M459.85 24.7V27.1M458.7 25.4L461 26.5M461 25.4L458.7 26.5" stroke="#1a1a1a" stroke-width="0.9" fill="none"/>
<path d="M463.15 24.7V27.1M462 25.4L464.3 26.5M464.3 25.4L462 26.5" stroke="#1a1a1a" stroke-width="0.9" fill="none"/>
<path d="M466.45 24.7V27.1M465.3 25.4L467.6 26.5M467.6 25.4L465.3 26.5" stroke="#1a1a1a" stroke-width="0.9" fill="none"/>
<line x1="449.2" y1="38.2" x2="464.3" y2="38.2" stroke="#333" stroke-width="1"/>
<path d="M452.05 33.2V35.6M450.9 33.9L453.2 35M453.2 33.9L450.9 35" stroke="#1a1a1a" stroke-width="0.9" fill="none"/>
<path d="M455.35 33.2V35.6M454.2 33.9L456.5 35M456.5 33.9L454.2 35" stroke="#1a1a1a" stroke-width="0.9" fill="none"/>
<path d="M458.65 33.2V35.6M457.5 33.9L459.8 35M459.8 33.9L457.5 35" stroke="#1a1a1a" stroke-width="0.9" fill="none"/>
<path d="M461.95 33.2V35.6M460.8 33.9L463.1 35M463.1 33.9L460.8 35" stroke="#1a1a1a" stroke-width="0.9" fill="none"/>
<text x="7.2" y="155.8" font-size="11.2" font-weight="bold" fill="#000">B</text>
<line x1="40.3" y1="163.6" x2="40.3" y2="254.7" stroke="#1a1a1a" stroke-width="1.2"/>
<line x1="37.3" y1="254.2" x2="40.3" y2="254.2" stroke="#1a1a1a" stroke-width="1"/>
<text x="34.2" y="256.9" font-size="8.8" text-anchor="end" textLength="4.25" lengthAdjust="spacingAndGlyphs">0</text>
<line x1="37.3" y1="236.64" x2="40.3" y2="236.64" stroke="#1a1a1a" stroke-width="1"/>
<text x="34.2" y="239.34" font-size="8.8" text-anchor="end" textLength="8.5" lengthAdjust="spacingAndGlyphs">20</text>
<line x1="37.3" y1="219.08" x2="40.3" y2="219.08" stroke="#1a1a1a" stroke-width="1"/>
<text x="34.2" y="221.78" font-size="8.8" text-anchor="end" textLength="8.5" lengthAdjust="spacingAndGlyphs">40</text>
<line x1="37.3" y1="201.52" x2="40.3" y2="201.52" stroke="#1a1a1a" stroke-width="1"/>
<text x="34.2" y="204.22" font-size="8.8" text-anchor="end" textLength="8.5" lengthAdjust="spacingAndGlyphs">60</text>
<line x1="37.3" y1="183.96" x2="40.3" y2="183.96" stroke="#1a1a1a" stroke-width="1"/>
<text x="34.2" y="186.66" font-size="8.8" text-anchor="end" textLength="8.5" lengthAdjust="spacingAndGlyphs">80</text>
<line x1="37.3" y1="166.4" x2="40.3" y2="166.4" stroke="#1a1a1a" stroke-width="1"/>
<text x="34.2" y="169.1" font-size="8.8" text-anchor="end" textLength="12.75" lengthAdjust="spacingAndGlyphs">100</text>
<line x1="38.8" y1="254.2" x2="175.78" y2="254.2" stroke="#1a1a1a" stroke-width="1.2"/>
<line x1="40.6" y1="254.2" x2="40.6" y2="256.8" stroke="#1a1a1a" stroke-width="1"/>
<line x1="62.63" y1="254.2" x2="62.63" y2="256.8" stroke="#1a1a1a" stroke-width="1"/>
<text x="62.63" y="266.6" font-size="8.8" text-anchor="middle" textLength="8.5" lengthAdjust="spacingAndGlyphs">10</text>
<line x1="84.66" y1="254.2" x2="84.66" y2="256.8" stroke="#1a1a1a" stroke-width="1"/>
<text x="84.66" y="266.6" font-size="8.8" text-anchor="middle" textLength="8.5" lengthAdjust="spacingAndGlyphs">20</text>
<line x1="106.69" y1="254.2" x2="106.69" y2="256.8" stroke="#1a1a1a" stroke-width="1"/>
<text x="106.69" y="266.6" font-size="8.8" text-anchor="middle" textLength="8.5" lengthAdjust="spacingAndGlyphs">30</text>
<line x1="128.72" y1="254.2" x2="128.72" y2="256.8" stroke="#1a1a1a" stroke-width="1"/>
<text x="128.72" y="266.6" font-size="8.8" text-anchor="middle" textLength="8.5" lengthAdjust="spacingAndGlyphs">40</text>
<line x1="150.75" y1="254.2" x2="150.75" y2="256.8" stroke="#1a1a1a" stroke-width="1"/>
<text x="150.75" y="266.6" font-size="8.8" text-anchor="middle" textLength="8.5" lengthAdjust="spacingAndGlyphs">50</text>
<line x1="172.78" y1="254.2" x2="172.78" y2="256.8" stroke="#1a1a1a" stroke-width="1"/>
<text x="172.78" y="266.6" font-size="8.8" text-anchor="middle" textLength="8.5" lengthAdjust="spacingAndGlyphs">60</text>
<text x="75.6" y="280.4" font-size="9.6" textLength="64.9" lengthAdjust="spacingAndGlyphs">Day post transplant</text>
<text transform="translate(15.2,208.7) rotate(-90)" font-size="9.6" text-anchor="middle" textLength="51.4" lengthAdjust="spacingAndGlyphs">Percent survival</text>
<line x1="40.3" y1="166.4" x2="172.8" y2="166.4" stroke="#72b653" stroke-width="1.1"/>
<circle cx="172.8" cy="166.4" r="2.1" fill="#4f9d2f"/>
<path d="M77.4 166.4H77.4V175H84V183.8H86.7V201.6H95.4V219.1H108.7V227.8H128.7V237H132.9V245.5H172.8" fill="none" stroke="#e3931f" stroke-width="1.0"/>
<path d="M93.4 166.4H93.4V175.4H102.1V184.3H106.1V193.2H108.8V201.9H117.5V210.6H124.4V228.2H126.3V237.1H153.2V245.8H157.2V254.2" fill="none" stroke="#b51a40" stroke-width="1.0"/>
<path d="M82.2 166.4H82.2V170.8H86.5V183.8H90.7V187.8H102V201.2H108.5V210.4H113V214.4H124.1V223.1H126.1V231.8H139.5V236.5H144.2V241.2H157.5V245.5H172.8" fill="none" stroke="#3b5996" stroke-width="1.0"/>
<circle cx="82.2" cy="170.8" r="2.1" fill="none" stroke="#3b5996" stroke-width="1.1"/>
<circle cx="86.5" cy="183.8" r="2.1" fill="none" stroke="#3b5996" stroke-width="1.1"/>
<circle cx="90.7" cy="187.8" r="2.1" fill="none" stroke="#3b5996" stroke-width="1.1"/>
<circle cx="102" cy="201.2" r="2.1" fill="none" stroke="#3b5996" stroke-width="1.1"/>
<circle cx="108.5" cy="210.4" r="2.1" fill="none" stroke="#3b5996" stroke-width="1.1"/>
<circle cx="113" cy="214.4" r="2.1" fill="none" stroke="#3b5996" stroke-width="1.1"/>
<circle cx="124.1" cy="223.1" r="2.1" fill="none" stroke="#3b5996" stroke-width="1.1"/>
<circle cx="126.1" cy="231.8" r="2.1" fill="none" stroke="#3b5996" stroke-width="1.1"/>
<circle cx="139.5" cy="236.5" r="2.1" fill="none" stroke="#3b5996" stroke-width="1.1"/>
<circle cx="144.2" cy="241.2" r="2.1" fill="none" stroke="#3b5996" stroke-width="1.1"/>
<circle cx="157.5" cy="245.5" r="2.1" fill="none" stroke="#3b5996" stroke-width="1.1"/>
<rect x="75.6" y="173.2" width="3.6" height="3.6" fill="#e3931f"/>
<rect x="82.2" y="182" width="3.6" height="3.6" fill="#e3931f"/>
<rect x="84.9" y="199.8" width="3.6" height="3.6" fill="#e3931f"/>
<rect x="93.6" y="217.3" width="3.6" height="3.6" fill="#e3931f"/>
<rect x="106.9" y="226" width="3.6" height="3.6" fill="#e3931f"/>
<rect x="126.9" y="235.2" width="3.6" height="3.6" fill="#e3931f"/>
<rect x="131.1" y="243.7" width="3.6" height="3.6" fill="#e3931f"/>
<path d="M93.4 173.51L95.5 177.29L91.3 177.29Z" fill="#b51a40"/>
<path d="M102.1 182.41L104.2 186.19L100 186.19Z" fill="#b51a40"/>
<path d="M106.1 191.31L108.2 195.09L104 195.09Z" fill="#b51a40"/>
<path d="M108.8 200.01L110.9 203.79L106.7 203.79Z" fill="#b51a40"/>
<path d="M117.5 208.71L119.6 212.49L115.4 212.49Z" fill="#b51a40"/>
<path d="M124.4 226.31L126.5 230.09L122.3 230.09Z" fill="#b51a40"/>
<path d="M126.3 235.21L128.4 238.99L124.2 238.99Z" fill="#b51a40"/>
<path d="M153.2 243.91L155.3 247.69L151.1 247.69Z" fill="#b51a40"/>
<path d="M157.2 252.31L159.3 256.09L155.1 256.09Z" fill="#b51a40"/>
<rect x="171" y="243.7" width="3.6" height="3.6" fill="#e3931f"/>
<circle cx="172.8" cy="245.5" r="2.1" fill="none" stroke="#3b5996" stroke-width="1.1"/>
<circle cx="141" cy="180.2" r="2.2" fill="#4f9d2f"/>
<text x="146.6" y="182.3" font-size="8.2" textLength="11.6" lengthAdjust="spacingAndGlyphs">BM</text>
<circle cx="141" cy="191.2" r="2.2" fill="none" stroke="#3b5996" stroke-width="1.1"/>
<text x="146.6" y="193.9" font-size="8.2" textLength="46.8" lengthAdjust="spacingAndGlyphs">GVHD Vehicle</text>
<path d="M141 199.95L143.5 204.45L138.5 204.45Z" fill="#b51a40"/>
<text x="146.6" y="204.8" font-size="8.2" textLength="93.7" lengthAdjust="spacingAndGlyphs">GVHD JWH-133 (1.5mg/kg)</text>
<rect x="138.9" y="211.1" width="4.2" height="4.2" fill="#e3931f"/>
<text x="146.6" y="215.7" font-size="8.2" textLength="90.7" lengthAdjust="spacingAndGlyphs">GVHD JWH-133 (20mg/kg)</text>
<text x="256" y="156.2" font-size="11.2" font-weight="bold" fill="#000">C</text>
<line x1="297.3" y1="161.2" x2="297.3" y2="254.6" stroke="#1a1a1a" stroke-width="1.2"/>
<line x1="294.3" y1="254.1" x2="297.3" y2="254.1" stroke="#1a1a1a" stroke-width="1"/>
<text x="292" y="256.8" font-size="8.8" text-anchor="end" textLength="4.25" lengthAdjust="spacingAndGlyphs">0</text>
<line x1="294.3" y1="236.08" x2="297.3" y2="236.08" stroke="#1a1a1a" stroke-width="1"/>
<text x="292" y="238.78" font-size="8.8" text-anchor="end" textLength="8.5" lengthAdjust="spacingAndGlyphs">20</text>
<line x1="294.3" y1="218.06" x2="297.3" y2="218.06" stroke="#1a1a1a" stroke-width="1"/>
<text x="292" y="220.76" font-size="8.8" text-anchor="end" textLength="8.5" lengthAdjust="spacingAndGlyphs">40</text>
<line x1="294.3" y1="200.04" x2="297.3" y2="200.04" stroke="#1a1a1a" stroke-width="1"/>
<text x="292" y="202.74" font-size="8.8" text-anchor="end" textLength="8.5" lengthAdjust="spacingAndGlyphs">60</text>
<line x1="294.3" y1="182.02" x2="297.3" y2="182.02" stroke="#1a1a1a" stroke-width="1"/>
<text x="292" y="184.72" font-size="8.8" text-anchor="end" textLength="8.5" lengthAdjust="spacingAndGlyphs">80</text>
<line x1="294.3" y1="164" x2="297.3" y2="164" stroke="#1a1a1a" stroke-width="1"/>
<text x="292" y="166.7" font-size="8.8" text-anchor="end" textLength="12.75" lengthAdjust="spacingAndGlyphs">100</text>
<line x1="295.8" y1="254.1" x2="436.1" y2="254.1" stroke="#1a1a1a" stroke-width="1.2"/>
<line x1="297.2" y1="254.1" x2="297.2" y2="256.7" stroke="#1a1a1a" stroke-width="1"/>
<line x1="319.85" y1="254.1" x2="319.85" y2="256.7" stroke="#1a1a1a" stroke-width="1"/>
<text x="319.85" y="266.8" font-size="8.8" text-anchor="middle" textLength="8.5" lengthAdjust="spacingAndGlyphs">10</text>
<line x1="342.5" y1="254.1" x2="342.5" y2="256.7" stroke="#1a1a1a" stroke-width="1"/>
<text x="342.5" y="266.8" font-size="8.8" text-anchor="middle" textLength="8.5" lengthAdjust="spacingAndGlyphs">20</text>
<line x1="365.15" y1="254.1" x2="365.15" y2="256.7" stroke="#1a1a1a" stroke-width="1"/>
<text x="365.15" y="266.8" font-size="8.8" text-anchor="middle" textLength="8.5" lengthAdjust="spacingAndGlyphs">30</text>
<line x1="387.8" y1="254.1" x2="387.8" y2="256.7" stroke="#1a1a1a" stroke-width="1"/>
<text x="387.8" y="266.8" font-size="8.8" text-anchor="middle" textLength="8.5" lengthAdjust="spacingAndGlyphs">40</text>
<line x1="410.45" y1="254.1" x2="410.45" y2="256.7" stroke="#1a1a1a" stroke-width="1"/>
<text x="410.45" y="266.8" font-size="8.8" text-anchor="middle" textLength="8.5" lengthAdjust="spacingAndGlyphs">50</text>
<line x1="433.1" y1="254.1" x2="433.1" y2="256.7" stroke="#1a1a1a" stroke-width="1"/>
<text x="433.1" y="266.8" font-size="8.8" text-anchor="middle" textLength="8.5" lengthAdjust="spacingAndGlyphs">60</text>
<text x="334.8" y="279.6" font-size="9.6" textLength="63.7" lengthAdjust="spacingAndGlyphs">Day post transplant</text>
<text transform="translate(271.4,207.7) rotate(-90)" font-size="9.6" text-anchor="middle" textLength="53" lengthAdjust="spacingAndGlyphs">Percent survival</text>
<line x1="297.3" y1="164" x2="433.2" y2="164" stroke="#72b653" stroke-width="1.1"/>
<circle cx="433.2" cy="164" r="2" fill="#4f9d2f"/>
<path d="M358.3 164H358.3V173.3H362.7V191.3H367.6V200H369.3V217.8H374V235.8H381V245.2H399V254.1" fill="none" stroke="#e3931f" stroke-width="1.0"/>
<path d="M315 164H315V173.1H317.3V191.2H358.3V200H362.7V209.3H385.2V218.2H389.9V227.1H392.7V236.3H415V245.2H433.2" fill="none" stroke="#3b5996" stroke-width="1.0"/>
<rect x="356.6" y="171.6" width="3.4" height="3.4" fill="#e3931f"/>
<rect x="361" y="189.6" width="3.4" height="3.4" fill="#e3931f"/>
<rect x="365.9" y="198.3" width="3.4" height="3.4" fill="#e3931f"/>
<rect x="367.6" y="216.1" width="3.4" height="3.4" fill="#e3931f"/>
<rect x="372.3" y="234.1" width="3.4" height="3.4" fill="#e3931f"/>
<rect x="379.3" y="243.5" width="3.4" height="3.4" fill="#e3931f"/>
<rect x="397.3" y="252.4" width="3.4" height="3.4" fill="#e3931f"/>
<circle cx="315" cy="173.1" r="2" fill="none" stroke="#3b5996" stroke-width="1.0"/>
<circle cx="317.3" cy="191.2" r="2" fill="none" stroke="#3b5996" stroke-width="1.0"/>
<circle cx="358.3" cy="200" r="2" fill="none" stroke="#3b5996" stroke-width="1.0"/>
<circle cx="362.7" cy="209.3" r="2" fill="none" stroke="#3b5996" stroke-width="1.0"/>
<circle cx="385.2" cy="218.2" r="2" fill="none" stroke="#3b5996" stroke-width="1.0"/>
<circle cx="389.9" cy="227.1" r="2" fill="none" stroke="#3b5996" stroke-width="1.0"/>
<circle cx="392.7" cy="236.3" r="2" fill="none" stroke="#3b5996" stroke-width="1.0"/>
<circle cx="415" cy="245.2" r="2" fill="none" stroke="#3b5996" stroke-width="1.0"/>
<circle cx="433.2" cy="245.2" r="2" fill="none" stroke="#3b5996" stroke-width="1.0"/>
<circle cx="415.3" cy="181.4" r="2" fill="#4f9d2f"/>
<text x="420.4" y="184" font-size="8.2" textLength="12.2" lengthAdjust="spacingAndGlyphs">BM</text>
<circle cx="415.3" cy="193" r="2.2" fill="none" stroke="#3b5996" stroke-width="1.1"/>
<text x="420.4" y="195.8" font-size="8.2" textLength="50.8" lengthAdjust="spacingAndGlyphs">GVHD Vehicle</text>
<rect x="413.4" y="202.7" width="3.8" height="3.8" fill="#e3931f"/>
<text x="420.4" y="207.4" font-size="8.2" textLength="58.4" lengthAdjust="spacingAndGlyphs">GVHD JWH-133</text>
<text x="7.6" y="307.5" font-size="11.2" font-weight="bold" fill="#000">D</text>
<line x1="49.3" y1="321.1" x2="49.3" y2="412.7" stroke="#1a1a1a" stroke-width="1.2"/>
<line x1="46.3" y1="412.2" x2="49.3" y2="412.2" stroke="#1a1a1a" stroke-width="1"/>
<text x="43" y="414.9" font-size="8.8" text-anchor="end" textLength="4.25" lengthAdjust="spacingAndGlyphs">0</text>
<line x1="46.3" y1="394.54" x2="49.3" y2="394.54" stroke="#1a1a1a" stroke-width="1"/>
<text x="43" y="397.24" font-size="8.8" text-anchor="end" textLength="8.5" lengthAdjust="spacingAndGlyphs">20</text>
<line x1="46.3" y1="376.88" x2="49.3" y2="376.88" stroke="#1a1a1a" stroke-width="1"/>
<text x="43" y="379.58" font-size="8.8" text-anchor="end" textLength="8.5" lengthAdjust="spacingAndGlyphs">40</text>
<line x1="46.3" y1="359.22" x2="49.3" y2="359.22" stroke="#1a1a1a" stroke-width="1"/>
<text x="43" y="361.92" font-size="8.8" text-anchor="end" textLength="8.5" lengthAdjust="spacingAndGlyphs">60</text>
<line x1="46.3" y1="341.56" x2="49.3" y2="341.56" stroke="#1a1a1a" stroke-width="1"/>
<text x="43" y="344.26" font-size="8.8" text-anchor="end" textLength="8.5" lengthAdjust="spacingAndGlyphs">80</text>
<line x1="46.3" y1="323.9" x2="49.3" y2="323.9" stroke="#1a1a1a" stroke-width="1"/>
<text x="43" y="326.6" font-size="8.8" text-anchor="end" textLength="12.75" lengthAdjust="spacingAndGlyphs">100</text>
<line x1="47.8" y1="412.2" x2="188.22" y2="412.2" stroke="#1a1a1a" stroke-width="1.2"/>
<line x1="49.8" y1="412.2" x2="49.8" y2="414.8" stroke="#1a1a1a" stroke-width="1"/>
<line x1="72.37" y1="412.2" x2="72.37" y2="414.8" stroke="#1a1a1a" stroke-width="1"/>
<text x="72.37" y="424.8" font-size="8.8" text-anchor="middle" textLength="8.5" lengthAdjust="spacingAndGlyphs">10</text>
<line x1="94.94" y1="412.2" x2="94.94" y2="414.8" stroke="#1a1a1a" stroke-width="1"/>
<text x="94.94" y="424.8" font-size="8.8" text-anchor="middle" textLength="8.5" lengthAdjust="spacingAndGlyphs">20</text>
<line x1="117.51" y1="412.2" x2="117.51" y2="414.8" stroke="#1a1a1a" stroke-width="1"/>
<text x="117.51" y="424.8" font-size="8.8" text-anchor="middle" textLength="8.5" lengthAdjust="spacingAndGlyphs">30</text>
<line x1="140.08" y1="412.2" x2="140.08" y2="414.8" stroke="#1a1a1a" stroke-width="1"/>
<text x="140.08" y="424.8" font-size="8.8" text-anchor="middle" textLength="8.5" lengthAdjust="spacingAndGlyphs">40</text>
<line x1="162.65" y1="412.2" x2="162.65" y2="414.8" stroke="#1a1a1a" stroke-width="1"/>
<text x="162.65" y="424.8" font-size="8.8" text-anchor="middle" textLength="8.5" lengthAdjust="spacingAndGlyphs">50</text>
<line x1="185.22" y1="412.2" x2="185.22" y2="414.8" stroke="#1a1a1a" stroke-width="1"/>
<text x="185.22" y="424.8" font-size="8.8" text-anchor="middle" textLength="8.5" lengthAdjust="spacingAndGlyphs">60</text>
<text x="86.8" y="438.5" font-size="9.6" textLength="64.6" lengthAdjust="spacingAndGlyphs">Day post transplant</text>
<text transform="translate(24,366.9) rotate(-90)" font-size="9.6" text-anchor="middle" textLength="51.7" lengthAdjust="spacingAndGlyphs">Percent survival</text>
<text x="86.6" y="319.9" font-size="8.6" textLength="9.3" lengthAdjust="spacingAndGlyphs">B6</text>
<line x1="99.2" y1="317.3" x2="114.5" y2="317.3" stroke="#111" stroke-width="1.1"/>
<path d="M118 317.3L113.2 315.1L113.2 319.5Z" fill="#111"/>
<text x="121" y="320" font-size="8.6" textLength="23.2" lengthAdjust="spacingAndGlyphs">Balb/c</text>
<path d="M112.7 323.9H174.4V332.1" fill="none" stroke="#8c5fa6" stroke-width="1.1"/>
<path d="M49.3 323.9H112.7V332.1H185.6" fill="none" stroke="#5f9a7c" stroke-width="1.1"/>
<circle cx="62.7" cy="323.9" r="2.1" fill="none" stroke="#5f9a7c" stroke-width="1.0"/>
<circle cx="112.7" cy="332.1" r="2.1" fill="none" stroke="#5f9a7c" stroke-width="1.0"/>
<circle cx="185.6" cy="332.1" r="2.1" fill="none" stroke="#5f9a7c" stroke-width="1.0"/>
<circle cx="174.4" cy="332.1" r="1.9" fill="#3f1359"/>
<circle cx="185.6" cy="332.1" r="1.9" fill="#3f1359"/>
<path d="M81.2 323.9H81.2V328.5H85.3V333H116.9V349.2H123.8V353.3H126.2V358.2H135.4V363H144.6V367.7H149.2V372.2H158.4V385.9H167.6V394.9H185.6V399.3" fill="none" stroke="#e8951f" stroke-width="1.0"/>
<path d="M69.3 323.9H69.3V328.5H85.3V333H97V337.4H108.1V341.8H113.1V350.5H117.7V355H119.7V363.7H123.6V368.2H126.3V372.6H128.8V377H130.9V381.3H133.1V385.6H135.2V399.4H140V403.8H147.1V408.1H185.6" fill="none" stroke="#4a6aaa" stroke-width="1.0"/>
<path d="M81.2 330.57L83.5 326.43L78.9 326.43Z" fill="#e8951f"/>
<path d="M85.3 335.07L87.6 330.93L83 330.93Z" fill="#e8951f"/>
<path d="M116.9 351.27L119.2 347.13L114.6 347.13Z" fill="#e8951f"/>
<path d="M123.8 355.37L126.1 351.23L121.5 351.23Z" fill="#e8951f"/>
<path d="M126.2 360.27L128.5 356.13L123.9 356.13Z" fill="#e8951f"/>
<path d="M135.4 365.07L137.7 360.93L133.1 360.93Z" fill="#e8951f"/>
<path d="M144.6 369.77L146.9 365.63L142.3 365.63Z" fill="#e8951f"/>
<path d="M149.2 374.27L151.5 370.13L146.9 370.13Z" fill="#e8951f"/>
<path d="M158.4 387.97L160.7 383.83L156.1 383.83Z" fill="#e8951f"/>
<path d="M167.6 396.97L169.9 392.83L165.3 392.83Z" fill="#e8951f"/>
<path d="M185.6 401.37L187.9 397.23L183.3 397.23Z" fill="#e8951f"/>
<path d="M69.3 326.1L71.7 328.5L69.3 330.9L66.9 328.5Z" fill="#1f3f86"/>
<path d="M85.3 330.6L87.7 333L85.3 335.4L82.9 333Z" fill="#1f3f86"/>
<path d="M97 335L99.4 337.4L97 339.8L94.6 337.4Z" fill="#1f3f86"/>
<path d="M108.1 339.4L110.5 341.8L108.1 344.2L105.7 341.8Z" fill="#1f3f86"/>
<path d="M113.1 348.1L115.5 350.5L113.1 352.9L110.7 350.5Z" fill="#1f3f86"/>
<path d="M117.7 352.6L120.1 355L117.7 357.4L115.3 355Z" fill="#1f3f86"/>
<path d="M119.7 361.3L122.1 363.7L119.7 366.1L117.3 363.7Z" fill="#1f3f86"/>
<path d="M123.6 365.8L126 368.2L123.6 370.6L121.2 368.2Z" fill="#1f3f86"/>
<path d="M126.3 370.2L128.7 372.6L126.3 375L123.9 372.6Z" fill="#1f3f86"/>
<path d="M128.8 374.6L131.2 377L128.8 379.4L126.4 377Z" fill="#1f3f86"/>
<path d="M130.9 378.9L133.3 381.3L130.9 383.7L128.5 381.3Z" fill="#1f3f86"/>
<path d="M133.1 383.2L135.5 385.6L133.1 388L130.7 385.6Z" fill="#1f3f86"/>
<path d="M135.2 397L137.6 399.4L135.2 401.8L132.8 399.4Z" fill="#1f3f86"/>
<path d="M140 401.4L142.4 403.8L140 406.2L137.6 403.8Z" fill="#1f3f86"/>
<path d="M147.1 405.7L149.5 408.1L147.1 410.5L144.7 408.1Z" fill="#1f3f86"/>
<path d="M185.6 405.7L188 408.1L185.6 410.5L183.2 408.1Z" fill="#1f3f86"/>
<line x1="105" y1="388.3" x2="119" y2="375.5" stroke="#222" stroke-width="1.15"/>
<line x1="107.3" y1="395.5" x2="156.6" y2="391.5" stroke="#222" stroke-width="1.15"/>
<path d="M102.9 391.8V394.2M101.75 392.5L104.05 393.6M104.05 392.5L101.75 393.6" stroke="#1a1a1a" stroke-width="0.9" fill="none"/>
<circle cx="181.1" cy="346.1" r="2" fill="#3f1359"/>
<text x="186.6" y="348.8" font-size="8.2" textLength="37.2" lengthAdjust="spacingAndGlyphs">BM Vehicle</text>
<circle cx="181.1" cy="357.3" r="2" fill="none" stroke="#5f9a7c" stroke-width="1.1"/>
<text x="186.6" y="359.9" font-size="8.2" textLength="28" lengthAdjust="spacingAndGlyphs">BM THC</text>
<path d="M181.1 366L183.6 368.5L181.1 371L178.6 368.5Z" fill="#1f3f86"/>
<text x="186.6" y="371.2" font-size="8.2" textLength="46.8" lengthAdjust="spacingAndGlyphs">GVHD Vehicle</text>
<path d="M181.1 381.86L183.5 377.54L178.7 377.54Z" fill="#e8951f"/>
<text x="186.6" y="381.9" font-size="8.2" textLength="38" lengthAdjust="spacingAndGlyphs">GVHD THC</text>
<text x="256.4" y="307.8" font-size="11.2" font-weight="bold" fill="#000">E</text>
<line x1="296.5" y1="319.6" x2="296.5" y2="412.7" stroke="#1a1a1a" stroke-width="1.2"/>
<line x1="293.5" y1="412.2" x2="296.5" y2="412.2" stroke="#1a1a1a" stroke-width="1"/>
<text x="290.8" y="414.9" font-size="8.8" text-anchor="end" textLength="4.25" lengthAdjust="spacingAndGlyphs">0</text>
<line x1="293.5" y1="394.24" x2="296.5" y2="394.24" stroke="#1a1a1a" stroke-width="1"/>
<text x="290.8" y="396.94" font-size="8.8" text-anchor="end" textLength="8.5" lengthAdjust="spacingAndGlyphs">20</text>
<line x1="293.5" y1="376.28" x2="296.5" y2="376.28" stroke="#1a1a1a" stroke-width="1"/>
<text x="290.8" y="378.98" font-size="8.8" text-anchor="end" textLength="8.5" lengthAdjust="spacingAndGlyphs">40</text>
<line x1="293.5" y1="358.32" x2="296.5" y2="358.32" stroke="#1a1a1a" stroke-width="1"/>
<text x="290.8" y="361.02" font-size="8.8" text-anchor="end" textLength="8.5" lengthAdjust="spacingAndGlyphs">60</text>
<line x1="293.5" y1="340.36" x2="296.5" y2="340.36" stroke="#1a1a1a" stroke-width="1"/>
<text x="290.8" y="343.06" font-size="8.8" text-anchor="end" textLength="8.5" lengthAdjust="spacingAndGlyphs">80</text>
<line x1="293.5" y1="322.4" x2="296.5" y2="322.4" stroke="#1a1a1a" stroke-width="1"/>
<text x="290.8" y="325.1" font-size="8.8" text-anchor="end" textLength="12.75" lengthAdjust="spacingAndGlyphs">100</text>
<line x1="295" y1="412.2" x2="434.5" y2="412.2" stroke="#1a1a1a" stroke-width="1.2"/>
<line x1="296.5" y1="412.2" x2="296.5" y2="414.8" stroke="#1a1a1a" stroke-width="1"/>
<line x1="319" y1="412.2" x2="319" y2="414.8" stroke="#1a1a1a" stroke-width="1"/>
<text x="319" y="425" font-size="8.8" text-anchor="middle" textLength="8.5" lengthAdjust="spacingAndGlyphs">10</text>
<line x1="341.5" y1="412.2" x2="341.5" y2="414.8" stroke="#1a1a1a" stroke-width="1"/>
<text x="341.5" y="425" font-size="8.8" text-anchor="middle" textLength="8.5" lengthAdjust="spacingAndGlyphs">20</text>
<line x1="364" y1="412.2" x2="364" y2="414.8" stroke="#1a1a1a" stroke-width="1"/>
<text x="364" y="425" font-size="8.8" text-anchor="middle" textLength="8.5" lengthAdjust="spacingAndGlyphs">30</text>
<line x1="386.5" y1="412.2" x2="386.5" y2="414.8" stroke="#1a1a1a" stroke-width="1"/>
<text x="386.5" y="425" font-size="8.8" text-anchor="middle" textLength="8.5" lengthAdjust="spacingAndGlyphs">40</text>
<line x1="409" y1="412.2" x2="409" y2="414.8" stroke="#1a1a1a" stroke-width="1"/>
<text x="409" y="425" font-size="8.8" text-anchor="middle" textLength="8.5" lengthAdjust="spacingAndGlyphs">50</text>
<line x1="431.5" y1="412.2" x2="431.5" y2="414.8" stroke="#1a1a1a" stroke-width="1"/>
<text x="431.5" y="425" font-size="8.8" text-anchor="middle" textLength="8.5" lengthAdjust="spacingAndGlyphs">60</text>
<text x="332.5" y="438.6" font-size="9.6" textLength="65" lengthAdjust="spacingAndGlyphs">Day post transplant</text>
<text transform="translate(271,366.2) rotate(-90)" font-size="9.6" text-anchor="middle" textLength="52.5" lengthAdjust="spacingAndGlyphs">Percent survival</text>
<text x="331" y="317.8" font-size="8.6" textLength="20" lengthAdjust="spacingAndGlyphs">CB2R</text>
<text x="351.2" y="313.2" font-size="5.0" textLength="5.6" lengthAdjust="spacingAndGlyphs">-/-</text>
<line x1="360.5" y1="315.2" x2="374" y2="315.2" stroke="#111" stroke-width="1.1"/>
<path d="M378 315.2L373.2 313L373.2 317.4Z" fill="#111"/>
<text x="382.1" y="317.8" font-size="8.6" textLength="22.8" lengthAdjust="spacingAndGlyphs">Balb/c</text>
<line x1="296.5" y1="322.7" x2="431.5" y2="322.7" stroke="#8cc66e" stroke-width="1.4"/>
<circle cx="431.5" cy="322.4" r="2.1" fill="#5aa83b"/>
<path d="M339.5 322.4H339.5V340.1H341.4V349.2H343.3V357.4H348V376.4H350.8V384.8H355V394.7H359.7V402.9H370.2V411.6" fill="none" stroke="#e8951f" stroke-width="1.0"/>
<path d="M339.5 322.4H339.5V332.8H343.6V362.6H348V372.4H350.3V383H355V392.3H363.7V402.9H365.8V411.8" fill="none" stroke="#3d5c9e" stroke-width="1.0"/>
<path d="M339.5 342.26L341.9 337.94L337.1 337.94Z" fill="#e8951f"/>
<path d="M341.4 351.36L343.8 347.04L339 347.04Z" fill="#e8951f"/>
<path d="M343.3 359.56L345.7 355.24L340.9 355.24Z" fill="#e8951f"/>
<path d="M348 378.56L350.4 374.24L345.6 374.24Z" fill="#e8951f"/>
<path d="M350.8 386.96L353.2 382.64L348.4 382.64Z" fill="#e8951f"/>
<path d="M355 396.86L357.4 392.54L352.6 392.54Z" fill="#e8951f"/>
<path d="M359.7 405.06L362.1 400.74L357.3 400.74Z" fill="#e8951f"/>
<path d="M370.2 413.76L372.6 409.44L367.8 409.44Z" fill="#e8951f"/>
<path d="M339.5 330.35L341.95 332.8L339.5 335.25L337.05 332.8Z" fill="#1f3f86"/>
<path d="M343.6 360.15L346.05 362.6L343.6 365.05L341.15 362.6Z" fill="#1f3f86"/>
<path d="M348 369.95L350.45 372.4L348 374.85L345.55 372.4Z" fill="#1f3f86"/>
<path d="M350.3 380.55L352.75 383L350.3 385.45L347.85 383Z" fill="#1f3f86"/>
<path d="M355 389.85L357.45 392.3L355 394.75L352.55 392.3Z" fill="#1f3f86"/>
<path d="M363.7 400.45L366.15 402.9L363.7 405.35L361.25 402.9Z" fill="#1f3f86"/>
<path d="M365.8 409.35L368.25 411.8L365.8 414.25L363.35 411.8Z" fill="#1f3f86"/>
<circle cx="414.5" cy="352" r="2" fill="#5aa83b"/>
<text x="419.6" y="354.6" font-size="8.2" textLength="11.5" lengthAdjust="spacingAndGlyphs">BM</text>
<path d="M414.5 361.3L417 363.8L414.5 366.3L412 363.8Z" fill="#1f3f86"/>
<text x="419.6" y="366.5" font-size="8.2" textLength="50" lengthAdjust="spacingAndGlyphs">GVHD Vehicle</text>
<path d="M414.5 377.56L416.9 373.24L412.1 373.24Z" fill="#e8951f"/>
<text x="419.6" y="377.7" font-size="8.2" textLength="40.5" lengthAdjust="spacingAndGlyphs">GVHD THC</text>
<rect x="0.5" y="0.5" width="519" height="447" fill="none" stroke="#000" stroke-width="1"/>
</svg>
</body></html>
